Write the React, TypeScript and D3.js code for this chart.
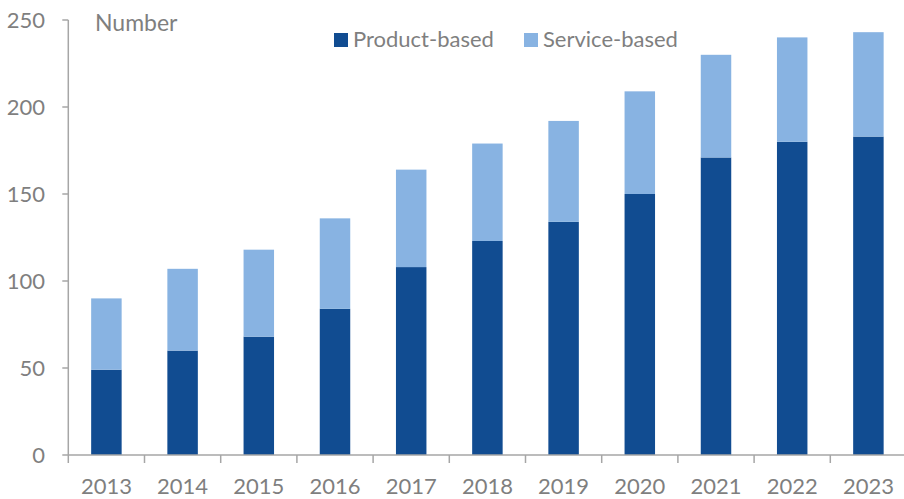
import React, { useEffect, useRef } from "react";
import * as d3 from "d3";

const years = ["2013", "2014", "2015", "2016", "2017", "2018", "2019", "2020", "2021", "2022", "2023"];
const productBased = [49, 60, 68, 84, 108, 123, 134, 150, 171, 180, 183];
const serviceBased = [41, 47, 50, 52, 56, 56, 58, 59, 59, 60, 60];
const yTicks = [0, 50, 100, 150, 200, 250];
const seriesNames = ["Product-based", "Service-based"];
const seriesColors = ["#114c91", "#88b3e2"];

const W = 904;
const H = 499;
const FONT = "Lato, 'Open Sans', sans-serif";
const TEXT = "#7f7f7f";
const AXIS = "#a6a6a6";

export default function App() {
  const ref = useRef<SVGSVGElement | null>(null);

  useEffect(() => {
    const svg = d3.select(ref.current);
    svg.selectAll("*").remove();

    const x = d3.scaleBand<string>().domain(years).range([68.3, 906.5]).paddingInner(0.6).paddingOuter(0.3);
    const y = d3.scaleLinear().domain([0, 250]).range([455, 20]);

    const rows = years.map((yr, i) => ({ year: yr, product: productBased[i], service: serviceBased[i] }));
    const stack = d3.stack<any>().keys(["product", "service"])(rows);

    const g = svg.append("g");
    stack.forEach((layer, li) => {
      g.selectAll(`.bar${li}`)
        .data(layer)
        .enter()
        .append("rect")
        .attr("x", (d: any) => x(d.data.year)!)
        .attr("width", x.bandwidth())
        .attr("y", (d: any) => y(d[1]))
        .attr("height", (d: any) => y(d[0]) - y(d[1]))
        .attr("fill", seriesColors[li]);
    });

    // y axis
    const x0 = 68.3;
    svg.append("line").attr("x1", x0).attr("x2", x0).attr("y1", y(250)).attr("y2", y(0))
      .attr("stroke", AXIS).attr("stroke-width", 1.5);
    yTicks.forEach((t) => {
      svg.append("line").attr("x1", x0 - 6).attr("x2", x0).attr("y1", y(t)).attr("y2", y(t))
        .attr("stroke", AXIS).attr("stroke-width", 1.5);
      svg.append("text").attr("x", 45).attr("y", y(t)).attr("dy", "0.35em")
        .attr("text-anchor", "end").attr("fill", TEXT)
        .style("font-family", FONT).style("font-size", "22px").text(String(t));
    });

    // x axis
    svg.append("line").attr("x1", x0).attr("x2", 906.5).attr("y1", y(0)).attr("y2", y(0))
      .attr("stroke", AXIS).attr("stroke-width", 1.5);
    const step = x.step();
    for (let i = 0; i <= years.length; i++) {
      const tx = x0 + i * step;
      svg.append("line").attr("x1", tx).attr("x2", tx).attr("y1", y(0)).attr("y2", y(0) + 8)
        .attr("stroke", AXIS).attr("stroke-width", 1.5);
    }
    years.forEach((yr) => {
      svg.append("text").attr("x", x(yr)! + x.bandwidth() / 2).attr("y", 494)
        .attr("text-anchor", "middle").attr("fill", TEXT)
        .style("font-family", FONT).style("font-size", "22px").text(yr);
    });

    // unit label
    svg.append("text").attr("x", 95).attr("y", 31).attr("fill", TEXT)
      .style("font-family", FONT).style("font-size", "23px").text("Number");

    // legend
    const legendX = [334, 524];
    seriesNames.forEach((name, i) => {
      svg.append("rect").attr("x", legendX[i]).attr("y", 33).attr("width", 14).attr("height", 14)
        .attr("fill", seriesColors[i]);
      svg.append("text").attr("x", legendX[i] + 19).attr("y", 47).attr("fill", TEXT)
        .style("font-family", FONT).style("font-size", "22px").text(name);
    });
  }, []);

  return (
    <svg ref={ref} width={W} height={H} style={{ position: "absolute", left: 0, top: 0, background: "#fff" }} />
  );
}
